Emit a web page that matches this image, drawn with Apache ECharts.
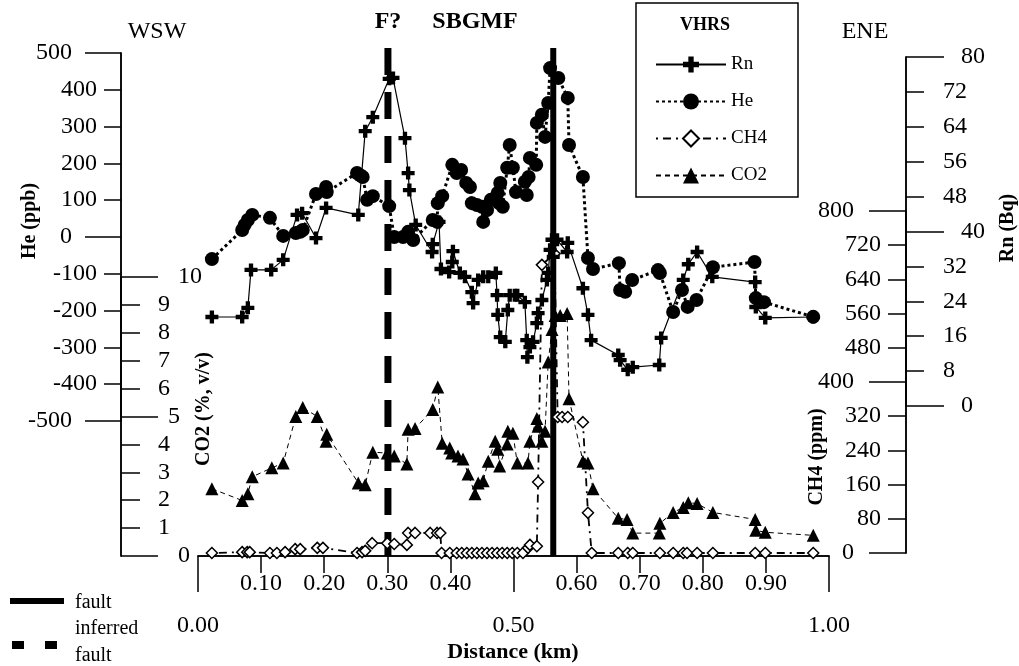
<!DOCTYPE html>
<html>
<head>
<meta charset="utf-8">
<title>VHRS soil gas profile</title>
<script src="https://cdn.jsdelivr.net/npm/echarts@6/dist/echarts.min.js"></script>
<style>
  html, body { margin: 0; padding: 0; background: #fff; }
  #chart { width: 1019px; height: 666px; }
</style>
</head>
<body>
<div id="chart"></div>
<script>
// values (distance in km)
var heDistance = [0.022, 0.070, 0.074, 0.079, 0.086, 0.114, 0.135, 0.155, 0.162, 0.166, 0.187, 0.203, 0.204,
  0.252, 0.257, 0.261, 0.268, 0.277, 0.303, 0.311, 0.325, 0.333, 0.341, 0.372, 0.379, 0.380, 0.387,
  0.403, 0.410, 0.417, 0.425, 0.431, 0.434, 0.442, 0.450, 0.452, 0.458, 0.464, 0.475, 0.477, 0.479,
  0.483, 0.490, 0.494, 0.499, 0.504, 0.518, 0.521, 0.524, 0.526, 0.536, 0.537, 0.545, 0.550, 0.555,
  0.558, 0.571, 0.586, 0.588, 0.610, 0.618, 0.626, 0.667, 0.669, 0.677, 0.688, 0.729, 0.732, 0.753,
  0.767, 0.776, 0.790, 0.816, 0.882, 0.884, 0.897, 0.975];
var heValues = [-60, 19, 33, 46, 60, 52, 3, 11, 14, 19, 117, 136, 122,
  174, 168, 163, 101, 111, 84, 0, 0, 14, -8, 46, 41, 92, 111,
  196, 174, 182, 147, 136, 92, 87, 82, 41, 73, 101, 120, 92, 147,
  82, 188, 250, 188, 122, 150, 114, 163, 215, 196, 310, 332, 272, 364,
  459, 432, 378, 250, 163, -57, -87, -71, -144, -149, -117, -90, -98, -204,
  -144, -190, -171, -82, -68, -166, -177, -217];

var rnDistance = [0.022, 0.070, 0.079, 0.084, 0.116, 0.135, 0.157, 0.165, 0.187, 0.203, 0.254, 0.265, 0.277,
  0.303, 0.309, 0.328, 0.333, 0.335, 0.345, 0.371, 0.372, 0.382, 0.385, 0.398, 0.403, 0.404, 0.415,
  0.423, 0.434, 0.436, 0.444, 0.452, 0.460, 0.472, 0.474, 0.475, 0.479, 0.487, 0.491, 0.494, 0.502,
  0.506, 0.518, 0.521, 0.522, 0.526, 0.531, 0.537, 0.539, 0.545, 0.553, 0.555, 0.558, 0.561, 0.563,
  0.569, 0.585, 0.586, 0.610, 0.618, 0.623, 0.666, 0.669, 0.681, 0.689, 0.731, 0.734, 0.769, 0.777,
  0.791, 0.815, 0.883, 0.884, 0.899, 0.975];
var rnValues = [20.4, 20.4, 22.5, 31.2, 31.2, 33.5, 43.8, 44.2, 38.5, 45.4, 43.8, 63.0, 66.2,
  75.0, 75.2, 61.4, 53.4, 49.5, 41.5, 35.3, 37.1, 42.2, 31.4, 30.7, 33.0, 35.5, 30.5,
  29.6, 26.1, 23.6, 28.9, 29.6, 29.6, 30.5, 25.4, 20.9, 15.8, 14.7, 22.0, 25.4, 25.4,
  25.4, 23.8, 15.1, 11.2, 13.5, 14.7, 19.0, 21.3, 24.3, 28.9, 30.5, 35.8, 38.1, 34.2,
  38.1, 35.3, 37.4, 27.0, 20.9, 15.1, 11.7, 10.5, 8.3, 8.9, 9.4, 15.6, 28.9, 32.5,
  35.3, 29.6, 28.4, 22.7, 20.2, 20.4];

var co2Distance = [0.022, 0.070, 0.079, 0.086, 0.117, 0.135, 0.155, 0.166, 0.189, 0.203, 0.204, 0.254, 0.265,
  0.277, 0.300, 0.311, 0.331, 0.333, 0.344, 0.372, 0.380, 0.387, 0.399, 0.402, 0.412, 0.420, 0.428,
  0.439, 0.444, 0.452, 0.460, 0.471, 0.475, 0.478, 0.490, 0.491, 0.499, 0.506, 0.523, 0.526, 0.537,
  0.539, 0.545, 0.550, 0.555, 0.561, 0.566, 0.574, 0.585, 0.588, 0.610, 0.618, 0.626, 0.666, 0.680,
  0.689, 0.731, 0.732, 0.753, 0.769, 0.777, 0.791, 0.816, 0.883, 0.884, 0.899, 0.975];
var co2Values = [2.41, 1.99, 2.23, 2.84, 3.16, 3.33, 5.00, 5.32, 5.00, 4.11, 4.36, 2.62, 2.55,
  3.72, 3.69, 3.58, 3.30, 4.54, 4.57, 5.25, 6.06, 4.04, 3.87, 3.69, 3.58, 3.48, 2.94,
  2.23, 2.62, 2.70, 3.40, 4.11, 3.83, 3.23, 4.01, 4.47, 4.40, 3.33, 3.33, 4.11, 4.93,
  4.65, 4.11, 4.47, 6.95, 8.12, 8.62, 8.62, 8.69, 5.64, 3.40, 3.33, 2.41, 1.35, 1.31,
  0.82, 0.82, 1.17, 1.56, 1.74, 1.91, 1.88, 1.56, 1.31, 0.92, 0.85, 0.74];

var ch4Distance = [0.022, 0.070, 0.078, 0.082, 0.114, 0.125, 0.138, 0.154, 0.162, 0.189, 0.198, 0.252, 0.260,
  0.265, 0.276, 0.300, 0.311, 0.331, 0.333, 0.344, 0.368, 0.379, 0.384, 0.386, 0.399, 0.410, 0.418,
  0.426, 0.434, 0.442, 0.450, 0.458, 0.466, 0.474, 0.482, 0.490, 0.498, 0.506, 0.515, 0.523, 0.526,
  0.537, 0.539, 0.545, 0.565, 0.570, 0.577, 0.586, 0.610, 0.618, 0.624, 0.666, 0.681, 0.689, 0.732,
  0.753, 0.769, 0.775, 0.791, 0.816, 0.883, 0.899, 0.975];
var ch4Values = [0, 2, 2, 2, 0, 0, 2, 9, 9, 12, 12, 0, 2,
  5, 23, 23, 21, 19, 47, 47, 47, 47, 47, 0, 0, 0, 0,
  0, 0, 0, 0, 0, 0, 0, 0, 0, 0, 0, 0, 12, 19,
  16, 166, 674, 700, 318, 318, 318, 306, 94, 0, 0, 0, 0, 0,
  0, 0, 0, 0, 0, 0, 0, 0];

// mapped faults: F? (inferred) and SBGMF
var faultNames = ['F?', 'SBGMF'];
var faultPositions = [0.301, 0.563];

var SERIF = '"Liberation Serif", "DejaVu Serif", serif';
var BLACK = '#000';

function pairs(xs, ys) {
  return xs.map(function (x, i) { return [x, ys[i]]; });
}

function labelFont(extra) {
  var o = { fontFamily: SERIF, fontSize: 24, color: BLACK };
  for (var k in extra) o[k] = extra[k];
  return o;
}

var axisLine = { show: true, onZero: false, lineStyle: { color: BLACK, width: 1.5 } };
function ticks(len, inside) {
  return { show: true, length: len, inside: !!inside, lineStyle: { color: BLACK, width: 1.5 } };
}
var noSplit = { show: false };

function hiddenX(grid) {
  return { gridIndex: grid, type: 'value', min: 0, max: 1, show: false };
}

var chart = echarts.init(document.getElementById('chart'));

chart.setOption({
  animation: false,
  backgroundColor: '#fff',
  grid: [
    { left: 198, width: 631, top: 53, height: 368 },   // He
    { left: 198, width: 631, top: 277, height: 279 },  // CO2
    { left: 198, width: 631, top: 57, height: 349 },   // Rn
    { left: 198, width: 631, top: 211, height: 342 },  // CH4
    { left: 198, width: 631, top: 48, height: 508 }    // faults
  ],
  xAxis: [
    hiddenX(0),
    {
      gridIndex: 1, type: 'value', min: 0, max: 1, interval: 0.1, position: 'bottom',
      axisLine: axisLine, axisTick: ticks(17), splitLine: noSplit,
      axisLabel: labelFont({
        margin: 16,
        formatter: function (v) { return Math.round(v * 10) % 5 === 0 ? '' : v.toFixed(2); }
      })
    },
    {
      gridIndex: 1, type: 'value', min: 0, max: 1, interval: 0.5, position: 'bottom',
      axisLine: axisLine, axisTick: ticks(36), splitLine: noSplit,
      axisLabel: labelFont({ margin: 58, formatter: function (v) { return v.toFixed(2); } })
    },
    hiddenX(2),
    hiddenX(3),
    hiddenX(4)
  ],
  yAxis: [
    // He (ppb)
    {
      gridIndex: 0, type: 'value', min: -500, max: 500, interval: 100, position: 'left', offset: 77,
      axisLine: axisLine, axisTick: ticks(17), splitLine: noSplit,
      axisLabel: labelFont({ margin: 24, formatter: function (v) { return v % 500 === 0 ? '' : String(v); } })
    },
    {
      gridIndex: 0, type: 'value', min: -500, max: 500, interval: 500, position: 'left', offset: 77,
      axisLine: axisLine, axisTick: ticks(36), splitLine: noSplit,
      axisLabel: labelFont({ margin: 49 })
    },
    // CO2 (%)
    {
      gridIndex: 1, type: 'value', min: 0, max: 10, interval: 1, position: 'left', offset: 77,
      axisLine: axisLine, axisTick: ticks(19, true), splitLine: noSplit,
      axisLabel: labelFont({ inside: true, margin: 37, formatter: function (v) { return v % 5 === 0 ? '' : String(v); } })
    },
    {
      gridIndex: 1, type: 'value', min: 0, max: 10, interval: 5, position: 'left', offset: 77,
      axisLine: axisLine, axisTick: ticks(37, true), splitLine: noSplit,
      axisLabel: labelFont({
        inside: true, margin: 47,
        formatter: function (v) { return v === 5 ? '5' : '{p|' + v + '}'; },
        rich: { p: { fontFamily: SERIF, fontSize: 24, color: BLACK, padding: [0, 0, 0, 10] } }
      })
    },
    // Rn (Bq)
    {
      gridIndex: 2, type: 'value', min: 0, max: 80, interval: 8, position: 'right', offset: 77,
      axisLine: axisLine, axisTick: ticks(18), splitLine: noSplit,
      axisLabel: labelFont({ margin: 37, formatter: function (v) { return v % 40 === 0 ? '' : String(v); } })
    },
    {
      gridIndex: 2, type: 'value', min: 0, max: 80, interval: 40, position: 'right', offset: 77,
      axisLine: axisLine, axisTick: ticks(38), splitLine: noSplit,
      axisLabel: labelFont({ margin: 55 })
    },
    // CH4 (ppm)
    {
      gridIndex: 3, type: 'value', min: 0, max: 800, interval: 80, position: 'right', offset: 77,
      axisLine: axisLine, axisTick: ticks(18, true), splitLine: noSplit,
      axisLabel: labelFont({ inside: true, margin: 25, formatter: function (v) { return v % 400 === 0 ? '' : String(v); } })
    },
    {
      gridIndex: 3, type: 'value', min: 0, max: 800, interval: 400, position: 'right', offset: 77,
      axisLine: axisLine, axisTick: ticks(37, true), splitLine: noSplit,
      axisLabel: labelFont({ inside: true, margin: 52 })
    },
    // faults frame
    { gridIndex: 4, type: 'value', min: 0, max: 1, show: false }
  ],
  legend: {
    data: ['Rn', 'He', 'CH4', 'CO2'],
    orient: 'vertical', left: 650, top: 50,
    itemWidth: 70, itemHeight: 20, itemGap: 18,
    selectedMode: false,
    textStyle: { fontFamily: SERIF, fontSize: 19, color: BLACK }
  },
  graphic: [
    { type: 'rect', shape: { x: 636, y: 3, width: 162, height: 194 }, style: { fill: 'none', stroke: BLACK, lineWidth: 1.5 } },
    { type: 'text', x: 705, y: 25, style: { text: 'VHRS', fontFamily: SERIF, fontWeight: 'bold', fontSize: 18, fill: BLACK, align: 'center', verticalAlign: 'middle' } },
    { type: 'text', x: 157, y: 32, style: { text: 'WSW', fontFamily: SERIF, fontSize: 24, fill: BLACK, align: 'center', verticalAlign: 'middle' } },
    { type: 'text', x: 865, y: 32, style: { text: 'ENE', fontFamily: SERIF, fontSize: 24, fill: BLACK, align: 'center', verticalAlign: 'middle' } },
    { type: 'text', x: 388, y: 22, style: { text: faultNames[0], fontFamily: SERIF, fontWeight: 'bold', fontSize: 24, fill: BLACK, align: 'center', verticalAlign: 'middle' } },
    { type: 'text', x: 475, y: 22, style: { text: faultNames[1], fontFamily: SERIF, fontWeight: 'bold', fontSize: 24, fill: BLACK, align: 'center', verticalAlign: 'middle' } },
    { type: 'text', x: 30, y: 221, rotation: Math.PI / 2, style: { text: 'He (ppb)', fontFamily: SERIF, fontWeight: 'bold', fontSize: 20, fill: BLACK, align: 'center', verticalAlign: 'middle' } },
    { type: 'text', x: 204, y: 409, rotation: Math.PI / 2, style: { text: 'CO2 (%, v/v)', fontFamily: SERIF, fontWeight: 'bold', fontSize: 20, fill: BLACK, align: 'center', verticalAlign: 'middle' } },
    { type: 'text', x: 1008, y: 228, rotation: Math.PI / 2, style: { text: 'Rn (Bq)', fontFamily: SERIF, fontWeight: 'bold', fontSize: 20, fill: BLACK, align: 'center', verticalAlign: 'middle' } },
    { type: 'text', x: 817, y: 457, rotation: Math.PI / 2, style: { text: 'CH4 (ppm)', fontFamily: SERIF, fontWeight: 'bold', fontSize: 20, fill: BLACK, align: 'center', verticalAlign: 'middle' } },
    { type: 'text', x: 513, y: 652, style: { text: 'Distance (km)', fontFamily: SERIF, fontWeight: 'bold', fontSize: 22, fill: BLACK, align: 'center', verticalAlign: 'middle' } },
    // fault key, bottom left
    { type: 'rect', shape: { x: 10, y: 598, width: 54, height: 6 }, style: { fill: BLACK } },
    { type: 'text', x: 75, y: 603, style: { text: 'fault', fontFamily: SERIF, fontSize: 20, fill: BLACK, verticalAlign: 'middle' } },
    { type: 'rect', shape: { x: 12, y: 641, width: 12, height: 8 }, style: { fill: BLACK } },
    { type: 'rect', shape: { x: 45, y: 641, width: 12, height: 8 }, style: { fill: BLACK } },
    { type: 'text', x: 75, y: 629, style: { text: 'inferred', fontFamily: SERIF, fontSize: 20, fill: BLACK, verticalAlign: 'middle' } },
    { type: 'text', x: 75, y: 656, style: { text: 'fault', fontFamily: SERIF, fontSize: 20, fill: BLACK, verticalAlign: 'middle' } }
  ],
  series: [
    {
      name: 'inferred fault', type: 'line', xAxisIndex: 5, yAxisIndex: 8, silent: true, symbol: 'none',
      data: [[faultPositions[0], 1], [faultPositions[0], 0]],
      lineStyle: { color: BLACK, width: 7, type: [27, 17] }
    },
    {
      name: 'fault', type: 'line', xAxisIndex: 5, yAxisIndex: 8, silent: true, symbol: 'none',
      data: [[faultPositions[1], 1], [faultPositions[1], 0]],
      lineStyle: { color: BLACK, width: 6 }
    },
    {
      name: 'CH4', type: 'line', xAxisIndex: 4, yAxisIndex: 6,
      data: pairs(ch4Distance, ch4Values),
      symbol: 'diamond', symbolSize: 11,
      itemStyle: { color: '#fff', borderColor: BLACK, borderWidth: 1.5 },
      lineStyle: { color: BLACK, width: 1.8, type: [2, 5, 8, 5] }
    },
    {
      name: 'CO2', type: 'line', xAxisIndex: 1, yAxisIndex: 2,
      data: pairs(co2Distance, co2Values),
      symbol: 'triangle', symbolSize: 13,
      itemStyle: { color: BLACK },
      lineStyle: { color: BLACK, width: 1, type: [5, 4] }
    },
    {
      name: 'Rn', type: 'line', xAxisIndex: 3, yAxisIndex: 4,
      data: pairs(rnDistance, rnValues),
      symbol: 'path://M4 0H8V4H12V8H8V12H4V8H0V4H4Z', symbolSize: 13,
      itemStyle: { color: BLACK },
      lineStyle: { color: BLACK, width: 1.2 }
    },
    {
      name: 'He', type: 'line', xAxisIndex: 0, yAxisIndex: 0,
      data: pairs(heDistance, heValues),
      symbol: 'circle', symbolSize: 14,
      itemStyle: { color: BLACK },
      lineStyle: { color: BLACK, width: 3, type: [3, 3] }
    }
  ]
});
</script>
</body>
</html>
